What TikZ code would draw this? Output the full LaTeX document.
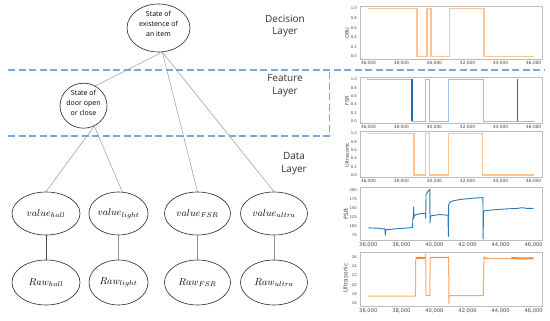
\documentclass[tikz,border=0pt]{standalone}
\usepackage{fontspec}
\setmainfont{Open Sans}
\newfontfamily\plotfont{DejaVu Sans}
\usetikzlibrary{shapes.geometric}
\definecolor{dashblue}{RGB}{120,168,220}
\definecolor{framegray}{RGB}{188,188,188}
\definecolor{tickgray}{RGB}{70,70,70}
\definecolor{lorange}{RGB}{255,196,145}
\definecolor{lblue}{RGB}{150,192,230}
\definecolor{dblue}{RGB}{31,110,180}
\definecolor{fsrblue}{RGB}{40,120,185}
\definecolor{uorange}{RGB}{255,168,100}
\definecolor{dorange}{RGB}{255,135,45}
\begin{document}
\begin{tikzpicture}[x=1pt,y=-1pt,
  ell/.style={ellipse, draw=black!85, line width=0.6pt, inner sep=0pt},
  edgeline/.style={draw=gray!85, line width=0.45pt},
  lay/.style={font=\fontsize{10}{12.5}\selectfont, text=black!80, align=center, inner sep=0pt},
  etext/.style={font=\fontsize{7}{10}\selectfont, align=center, inner sep=0pt},
  mtext/.style={font=\fontsize{10}{12}\selectfont},
  dashl/.style={draw=dashblue, line width=1.1pt, dash pattern=on 7pt off 3.5pt},
  frame/.style={draw=framegray, line width=0.7pt},
  xt/.style={font=\plotfont\fontsize{4.3}{5}\selectfont, text=tickgray, anchor=north, inner sep=0.5pt},
  xtb/.style={font=\plotfont\fontsize{5.2}{6}\selectfont, text=tickgray, anchor=north, inner sep=0.5pt},
  yt/.style={font=\plotfont\fontsize{3.8}{4.5}\selectfont, text=tickgray, anchor=east, inner sep=0.5pt},
  yl/.style={font=\plotfont\fontsize{5}{6}\selectfont, text=tickgray, rotate=90, inner sep=0pt},
  ylb/.style={font=\plotfont\fontsize{5.8}{7}\selectfont, text=tickgray, rotate=90, inner sep=0pt},
  binline/.style={draw=lorange, line width=1.6pt, line join=miter},
  blueline/.style={draw=lblue, line width=1.1pt},
  ]
\useasboundingbox (0,0) rectangle (550,321);
\fill[white] (0,0) rectangle (550,321);

% layer separators
\draw[dashl] (8,70) -- (545,70);
\draw[dashl] (8,136) -- (329.5,136) -- (329.5,70);

% layer labels
\node[lay] (decision) at (285,26) {Decision\\Layer};
\node[lay] (feature) at (285,85.5) {Feature\\Layer};
\node[lay] (data) at (294,163.5) {Data\\Layer};

% ellipses
\node[ell, minimum width=63, minimum height=48] (top) at (158.5,28) {};
\node[etext] (toptxt) at (158.5,23.5) {State of\\existence of\\an item};
\node[ell, minimum width=47, minimum height=45] (door) at (83.5,105.7) {};
\node[etext] (doortxt) at (83.5,103) {State of\\door open\\or close};

\node[ell, mtext, minimum width=68, minimum height=43] (vh) at (46,213.5) {$value_{hall}$};
\node[ell, mtext, minimum width=59, minimum height=43] (vl) at (118.5,213.5) {$value_{light}$};
\node[ell, mtext, minimum width=66, minimum height=43] (vf) at (197.5,213.5) {$value_{FSR}$};
\node[ell, mtext, minimum width=67, minimum height=43] (vu) at (274,213.5) {$value_{ultra}$};

\node[ell, mtext, minimum width=68, minimum height=45] (rh) at (46,282.5) {$Raw_{hall}$};
\node[ell, mtext, minimum width=59, minimum height=45] (rl) at (118.5,282.5) {$Raw_{light}$};
\node[ell, mtext, minimum width=66, minimum height=45] (rf) at (197.5,282.5) {$Raw_{FSR}$};
\node[ell, mtext, minimum width=67, minimum height=45] (ru) at (274,282.5) {$Raw_{ultra}$};

% connectors
\draw[edgeline] (top.-81) -- (door.59);
\draw[edgeline] (top.-81) -- (vf.north);
\draw[edgeline] (top.-81) -- (vu.north);
\draw[edgeline] (door.-62) -- (vh.north);
\draw[edgeline] (door.-62) -- (vl.80);
\draw[draw=black!70, line width=0.6pt] (vh) -- (rh);
\draw[edgeline] (vl) -- (rl);
\draw[edgeline] (vf) -- (rf);
\draw[edgeline] (vu) -- (ru);

% ---------- Plot 1: OBU ----------
\draw[frame] (360,6) rectangle (542,59.3);
\foreach \t/\k in {0/36,2/38,4/40,6/42,8/44,10/46}
  \node[xt] (pax\k) at (368.3+\t*16.54,60.6) {\k,000};
\foreach \v in {0.0,0.2,0.4,0.6,0.8,1.0}
  \node[yt] (pay\v) at (357.5,56.6-\v*48.2) {\v};
\node[yl] (pal) at (347,33) {OBU};
\begin{scope}[shift={(368.3,56.6)},x={(16.54pt,0pt)},y={(0pt,48.2pt)}]
\draw[binline] (0,1) -- (2.93,1) -- (2.93,0) -- (3.54,0) -- (3.54,1) -- (3.78,1) -- (3.78,0) -- (4.9,0) -- (4.9,1) -- (6.99,1) -- (6.99,0) -- (10,0);
\end{scope}

% ---------- Plot 2: FSR binary ----------
\draw[frame] (360,77.3) rectangle (542,123.5);
\foreach \t/\k in {0/36,2/38,4/40,6/42,8/44,10/46}
  \node[xt] (pbx\k) at (368.3+\t*16.54,124.6) {\k,000};
\foreach \v in {0.0,0.2,0.4,0.6,0.8,1.0}
  \node[yt] (pby\v) at (357.5,121.4-\v*42) {\v};
\node[yl] (pbl) at (347,101) {FSR};
\begin{scope}[shift={(368.3,121.4)},x={(16.54pt,0pt)},y={(0pt,42pt)}]
\draw[blueline] (-0.1,1) -- (2.65,1) -- (2.65,0) -- (3.45,0) -- (3.45,1) -- (3.69,1) -- (3.69,0) -- (4.84,0) -- (4.84,1) -- (6.95,1) -- (6.95,0) -- (10,0);
\draw[dblue, line width=1.3pt] (2.65,0) -- (2.65,1);
\draw[dblue, line width=1.3pt] (9.02,0) -- (9.02,1);
\end{scope}

% ---------- Plot 3: Ultrasonic binary ----------
\draw[frame] (360,131.3) rectangle (542,177.3);
\foreach \t/\k in {0/36,2/38,4/40,6/42,8/44,10/46}
  \node[xt] (pcx\k) at (368.3+\t*16.54,178.4) {\k,000};
\foreach \v in {0.0,0.2,0.4,0.6,0.8,1.0}
  \node[yt] (pcy\v) at (357.5,175.2-\v*41.8) {\v};
\node[yl] (pcl) at (347,155) {Ultrasonic};
\begin{scope}[shift={(368.3,175.2)},x={(16.54pt,0pt)},y={(0pt,41.8pt)}]
\draw[binline] (-0.1,1) -- (2.77,1) -- (2.77,0) -- (3.45,0) -- (3.45,1) -- (3.69,1) -- (3.69,0) -- (4.84,0) -- (4.84,1) -- (6.91,1) -- (6.91,0) -- (10,0);
\end{scope}

% ---------- Plot 4: FSR continuous ----------
\draw[frame] (360,187) rectangle (542,240.5);
\foreach \t/\k in {0/36,2/38,4/40,6/42,8/44,10/46}
  \node[xtb] (pdx\k) at (368.3+\t*16.54,241.5) {\k,000};
\foreach \v in {75,100,125,150,175,200}
  \node[yt] (pdy\v) at (357.5,189.7+200*0.36-\v*0.36) {\v};
\node[ylb] (pdl) at (346,214) {FSR};
\begin{scope}[shift={(368.3,261.7)},x={(16.54pt,0pt)},y={(0pt,0.36pt)}]
\draw[fsrblue, line width=0.9pt, line join=round]
 (0,94) -- (0.3,93.5) -- (0.6,93) -- (0.9,91) -- (1.0,91) -- (1.03,74) -- (1.06,89) -- (1.4,90) -- (1.8,92) -- (2.2,93) -- (2.5,94) -- (2.68,95)
 -- (2.69,122) -- (2.72,118) -- (2.74,152) -- (2.76,124) -- (2.8,128) -- (2.9,131) -- (3.1,133) -- (3.3,134) -- (3.45,135)
 -- (3.47,121) -- (3.49,187) -- (3.6,195) -- (3.72,201) -- (3.73,107) -- (3.76,127) -- (4.0,129) -- (4.3,131) -- (4.6,130) -- (4.82,129)
 -- (4.84,70) -- (4.86,158) -- (4.95,166) -- (5.2,170) -- (5.6,173) -- (6.0,175) -- (6.5,177) -- (6.93,178)
 -- (6.94,63) -- (6.97,141) -- (7.3,143) -- (7.8,145) -- (8.5,147) -- (9.0,148) -- (9.3,150) -- (9.6,148) -- (10,148);
\end{scope}

% ---------- Plot 5: Ultrasonic continuous ----------
\draw[frame] (360,252) rectangle (542,306.3);
\foreach \t/\k in {0/36,2/38,4/40,6/42,8/44,10/46}
  \node[xtb] (pex\k) at (368.3+\t*16.54,307.5) {\k,000};
\foreach \v in {16,18,20,22,24,26}
  \node[yt] (pey\v) at (357.5,257.3+26*4.57-\v*4.57) {\v};
\node[ylb] (pel) at (345.5,278) {Ultrasonic};
\begin{scope}[shift={(368.3,376.1)},x={(16.54pt,0pt)},y={(0pt,4.57pt)}]
\draw[uorange, line width=1pt, line join=round]
 (0,17.5) -- (2.85,17.5) -- (2.87,25.8) -- (3.0,26.0) -- (3.45,25.9) -- (3.47,26.6) -- (3.49,17.6) -- (3.72,17.6)
 -- (3.74,26.0) -- (4.86,26.0) -- (4.87,15.8) -- (4.9,17.6) -- (6.95,17.6) -- (6.99,26.1) -- (7.1,25.7) -- (8.65,25.7) -- (10,25.75);
\draw[dorange, line width=1.6pt] (2.9,25.9) -- (3.45,25.9);
\draw[dorange, line width=1.8pt] (3.76,25.95) -- (4.85,25.95);
\draw[dorange, line width=0.9pt] (7.0,25.9) -- (7.2,25.7);
\draw[dorange, line width=2.0pt] (8.65,25.8) -- (10,25.75);
\end{scope}
\end{tikzpicture}
\end{document}
